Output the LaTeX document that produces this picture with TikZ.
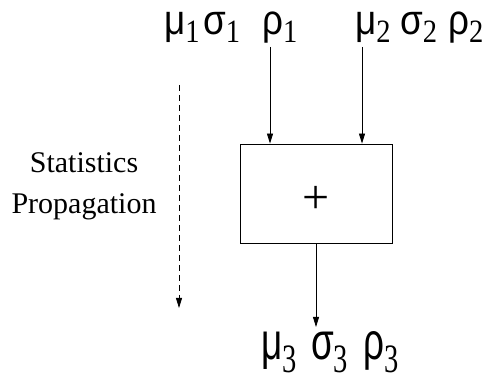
\documentclass[tikz,border=0pt]{standalone}
\usepackage{fontspec}
\setmainfont{Liberation Serif}
\newfontfamily\grk{Liberation Sans}
\usetikzlibrary{arrows.meta}
% Greek letter with serif subscript: #1 y-scale, #2 subscript drop, #3 letter, #4 digit
\newcommand{\gsub}[4]{\scalebox{0.92}[#1]{{\grk\fontsize{40}{40}\selectfont #3}\raisebox{-#2}{\fontsize{31}{31}\selectfont #4}}}
\tikzset{
  conn/.style={line width=0.8pt,-{Triangle[length=10pt,width=6pt]}},
  lbl/.style={inner sep=0pt,anchor=base west},
  boxnode/.style={draw,line width=0.8pt,minimum width=152pt,minimum height=99pt,inner sep=0pt}
}
\begin{document}
\begin{tikzpicture}[x=1pt,y=1pt]
\useasboundingbox (0,0) rectangle (493,383);
% top left
\node[lbl] (m1) at (164,348) {\gsub{1.05}{7pt}{μ}{1}};
\node[lbl] (s1) at (203,348) {\gsub{1.05}{7pt}{σ}{1}};
\node[lbl] (r1) at (262,348) {\gsub{1.05}{7pt}{ρ}{1}};
% top right
\node[lbl] (m2) at (355,348) {\gsub{1.05}{7pt}{μ}{2}};
\node[lbl] (s2) at (400,348) {\gsub{1.05}{7pt}{σ}{2}};
\node[lbl] (r2) at (448,348) {\gsub{1.05}{7pt}{ρ}{2}};
% bottom
\node[lbl] (m3) at (261,23) {\gsub{1.3}{10pt}{μ}{3}};
\node[lbl] (s3) at (311,23) {\gsub{1.3}{10pt}{σ}{3}};
\node[lbl] (r3) at (363,23) {\gsub{1.3}{10pt}{ρ}{3}};
\node[boxnode] (add) at (316,189.5) {};
\node[font=\fontsize{48}{48}\selectfont,inner sep=0pt] (plus) at ([yshift=-6pt]add.center) {+};
\node[align=center,font=\fontsize{30}{41}\selectfont,inner sep=0pt] (stat) at (84,197) {Statistics\\Propagation};
\coordinate (a1) at (270,336);
\coordinate (a2) at (362,336);
\coordinate (e3) at (316,56);
\coordinate (d1) at (179,298);
\coordinate (d2) at (179,75);
\draw[conn] (a1) -- (a1 |- add.north);
\draw[conn] (a2) -- (a2 |- add.north);
\draw[conn] (add.south) -- (e3);
\draw[conn,dash pattern=on 6pt off 4pt] (d1) -- (d2);
\end{tikzpicture}
\end{document}
